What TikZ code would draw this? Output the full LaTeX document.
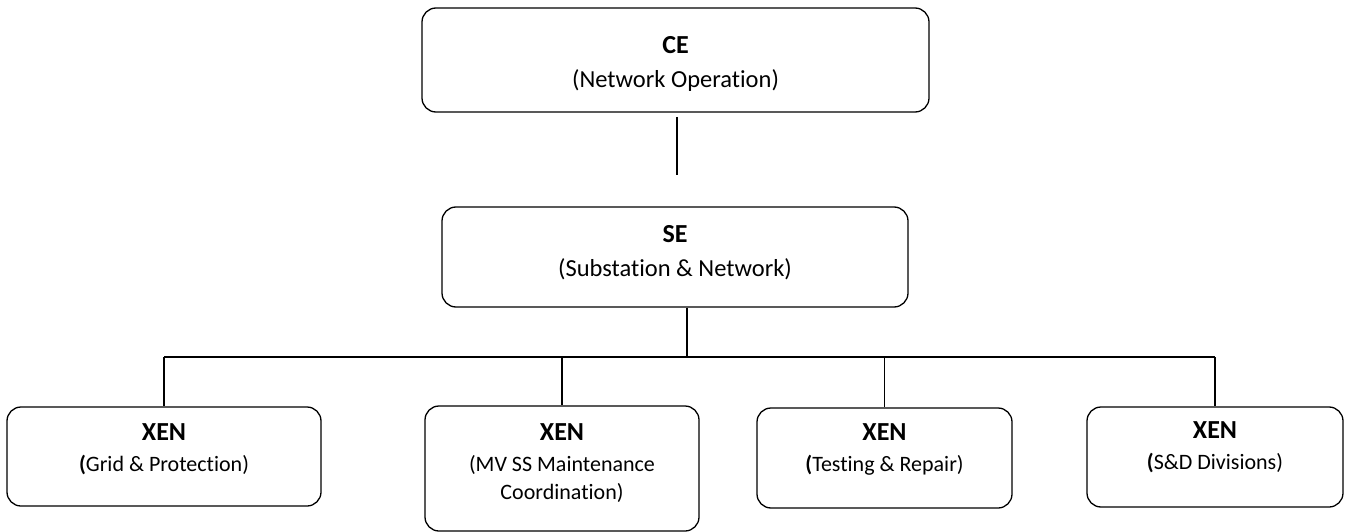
\documentclass[tikz,border=0pt]{standalone}
\usepackage{fontspec}
\setmainfont{Carlito}[Ligatures=NoCommon]
\begin{document}
\begin{tikzpicture}[x=1pt,y=-1pt,
  orgbox/.style={draw=black, line width=1.3pt, rounded corners=14pt, inner sep=0pt},
  head/.style={anchor=base, inner sep=0pt, font=\fontsize{26}{30}\selectfont\bfseries},
  sub/.style={anchor=base, inner sep=0pt, font=\fontsize{22}{26}\selectfont},
  bigsub/.style={sub, font=\fontsize{24.5}{29}\selectfont},
  wire/.style={draw=black, line width=1.1pt}]
\useasboundingbox (0,0) rectangle (1346,532);

% top level
\node[orgbox, minimum width=507pt, minimum height=104pt] (ce) at (675.5,60) {};
\node[head]   (ceh) at (675.5,54) {CE};
\node[bigsub] (ces) at (675.5,88) {(Network Operation)};

% second level
\node[orgbox, minimum width=466pt, minimum height=100pt] (se) at (675,257) {};
\node[head]   (seh) at (675,242) {SE};
\node[bigsub] (ses) at (675,276) {(Substation \& Network)};

% third level
\node[orgbox, minimum width=314pt, minimum height=99pt]  (g1) at (164,456.5) {};
\node[head] (g1h) at (164,440) {XEN};
\node[sub]  (g1s) at (164,471) {\textbf{(}Grid \& Protection)};

\node[orgbox, minimum width=274pt, minimum height=125pt] (g2) at (562,468.5) {};
\node[head] (g2h) at (562,440) {XEN};
\node[sub]  (g2s) at (562,471) {(MV SS Maintenance};
\node[sub]  (g2t) at (562,499) {Coordination)};

\node[orgbox, minimum width=255pt, minimum height=100pt] (g3) at (884.5,458) {};
\node[head] (g3h) at (884.5,440) {XEN};
\node[sub]  (g3s) at (884.5,471) {\textbf{(}Testing \& Repair)};

\node[orgbox, minimum width=256pt, minimum height=100pt] (g4) at (1215,457) {};
\node[head] (g4h) at (1215,438) {XEN};
\node[sub]  (g4s) at (1215,469) {\textbf{(}S\&D Divisions)};

% connectors
\coordinate (ceA) at (677,117);
\coordinate (ceB) at (677,175);
\coordinate (bus) at (687,357);
\draw[wire, line width=1.5pt] (ceA) -- (ceB);
\draw[wire, line width=1.8pt] (bus |- se.south) -- (bus);
\draw[wire] (g1.north |- bus) -- (g4.north |- bus);
\foreach \b in {g1,g2,g3,g4}
  \draw[wire] (\b.north |- bus) -- (\b.north);
\end{tikzpicture}
\end{document}
